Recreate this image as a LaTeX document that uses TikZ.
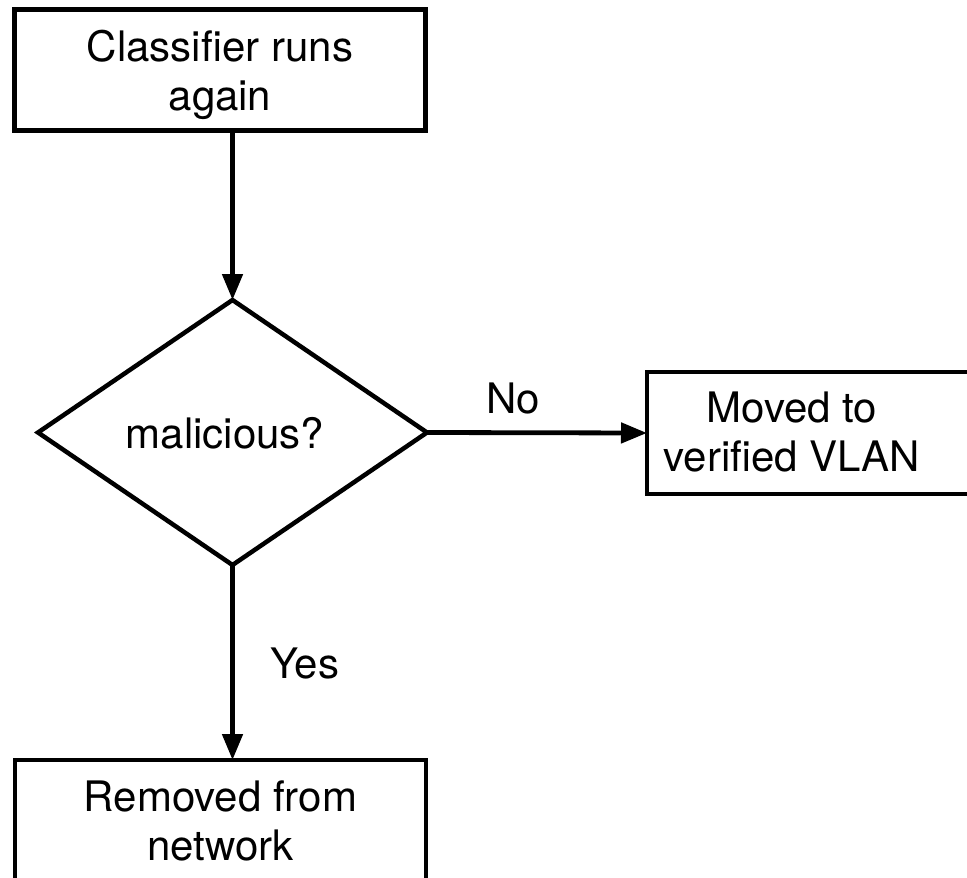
\documentclass[tikz,border=0pt]{standalone}
\usepackage{fontspec}
\setmainfont{TeX Gyre Heros}
\usetikzlibrary{arrows.meta,shapes.geometric}
\begin{document}
\begin{tikzpicture}[x=1pt,y=-1pt,
  every node/.style={font=\fontsize{42}{49}\selectfont, inner sep=0pt, outer sep=0pt},
  stepbox/.style={draw, line width=4.5pt, rectangle},
  decision/.style={draw, line width=4.5pt, diamond},
  txt/.style={align=center},
  conn/.style={line width=4.8pt, -{Triangle[length=26pt,width=20pt]}}
]
\useasboundingbox (0,0) rectangle (967,878);
\clip (0,0) rectangle (967,878);
\fill[white] (0,0) rectangle (967,878);

% boxes
\node[stepbox, minimum width=411pt, minimum height=121pt] (top) at (220,70) {};
\node[txt] (toptext) at (220,75) {Classifier runs\\again};

\node[decision, minimum width=389pt, minimum height=265pt] (dec) at (232.5,432.5) {};
\node[anchor=base] (dectext) at (225,448) {malicious?};

\node[stepbox, anchor=west, minimum width=345pt, minimum height=122pt] (mv) at (647,433) {};
\node[txt] (mvtext) at (792,432.5) {Moved to\\verified VLAN};

\node[stepbox, minimum width=411pt, minimum height=122pt] (rm) at (220.5,821) {};
\node[txt] (rmtext) at (220.5,820.5) {Removed from\\network};

% connectors
\draw[conn] (top.south -| dec.north) -- (dec.north);
\draw[conn] (dec.east) -- (mv.west);
\draw[conn] (dec.south) -- (rm.north -| dec.south);

% labels
\node[anchor=base] (no) at (513,413) {No};
\node[anchor=base] (yes) at (305,678) {Yes};
\end{tikzpicture}
\end{document}
